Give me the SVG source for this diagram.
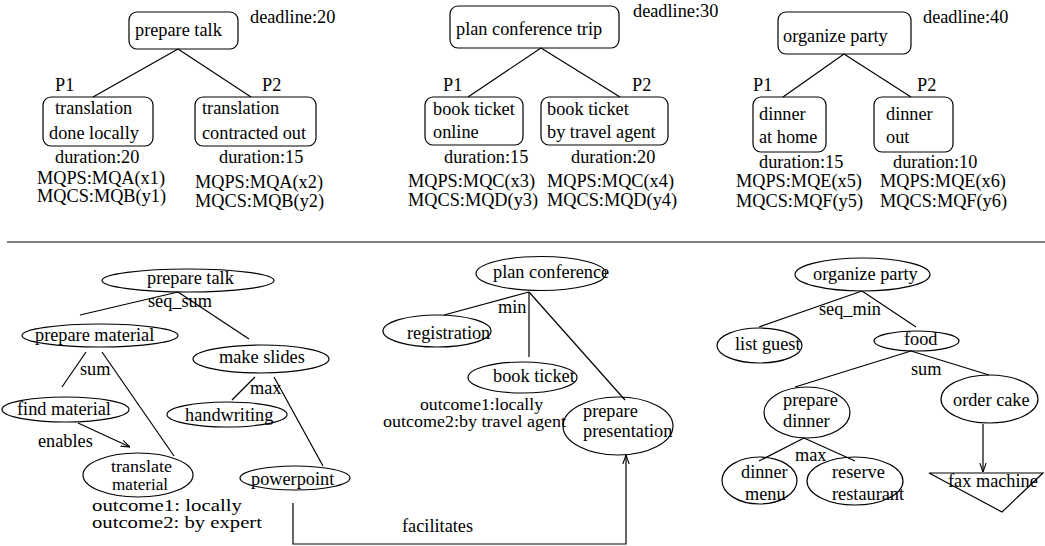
<svg xmlns="http://www.w3.org/2000/svg" width="1045" height="546" viewBox="0 0 1045 546" font-family="'Liberation Serif', 'Times New Roman', serif">
<style>
text{font-family:'Liberation Serif','Times New Roman',serif;font-size:18.3px;fill:#000}
.sm{font-size:16.8px}
.box{fill:none;stroke:#000;stroke-width:1.2}
.ell{fill:none;stroke:#000;stroke-width:1.2}
.ln{fill:none;stroke:#000;stroke-width:1.2}
.mid{text-anchor:middle}
</style>
<defs>
<marker id="arr" viewBox="0 0 10 10" refX="10" refY="5" markerWidth="9" markerHeight="9" markerUnits="userSpaceOnUse" orient="auto">
<path d="M0,1.5 L10,5 L0,8.5" fill="none" stroke="#000" stroke-width="1.2"/>
</marker>
</defs>
<rect width="1045" height="546" fill="#fff"/>

<g id="connectors">
<line class="ln" x1="178" y1="49" x2="93" y2="97"/>
<line class="ln" x1="178" y1="49" x2="251" y2="97"/>
<line class="ln" x1="541" y1="48" x2="468" y2="97"/>
<line class="ln" x1="541" y1="48" x2="620" y2="97"/>
<line class="ln" x1="844" y1="54" x2="783" y2="97"/>
<line class="ln" x1="844" y1="54" x2="911" y2="97"/>
<line class="ln" x1="7" y1="242" x2="1045" y2="242" stroke-width="1.5"/>
<line class="ln" x1="178" y1="292" x2="80" y2="315"/>
<line class="ln" x1="178" y1="292" x2="249" y2="339"/>
<line class="ln" x1="86" y1="352" x2="62" y2="387"/>
<line class="ln" x1="102" y1="352" x2="174" y2="456"/>
<line class="ln" x1="255" y1="377" x2="232" y2="400"/>
<line class="ln" x1="274" y1="377" x2="323" y2="466"/>
<line class="ln" x1="78" y1="423" x2="130" y2="447" marker-end="url(#arr)"/>
<polyline class="ln" points="293,503 293,544 626,544 626,455" marker-end="url(#arr)"/>
<line class="ln" x1="529" y1="292" x2="444" y2="315"/>
<line class="ln" x1="529" y1="292" x2="529" y2="357"/>
<line class="ln" x1="529" y1="292" x2="625" y2="400"/>
<line class="ln" x1="862" y1="291" x2="759" y2="327"/>
<line class="ln" x1="862" y1="291" x2="916" y2="327"/>
<line class="ln" x1="911" y1="351" x2="795" y2="387"/>
<line class="ln" x1="911" y1="351" x2="989" y2="375"/>
<line class="ln" x1="804" y1="438" x2="759" y2="461"/>
<line class="ln" x1="804" y1="438" x2="855" y2="461"/>
<line class="ln" x1="983" y1="424" x2="983" y2="472" marker-end="url(#arr)"/>
</g>

<g id="labels">
<text x="250" y="23">deadline:20</text>
<text x="633" y="17">deadline:30</text>
<text x="923" y="23">deadline:40</text>
<text x="55" y="91">P1</text>
<text x="262" y="91">P2</text>
<text x="443" y="91">P1</text>
<text x="632" y="91">P2</text>
<text x="753" y="91">P1</text>
<text x="917" y="91">P2</text>
<text x="55" y="163">duration:20</text>
<text x="37" y="184">MQPS:MQA(x1)</text>
<text x="37" y="202">MQCS:MQB(y1)</text>
<text x="219" y="163">duration:15</text>
<text x="195" y="188">MQPS:MQA(x2)</text>
<text x="195" y="207">MQCS:MQB(y2)</text>
<text x="444" y="163">duration:15</text>
<text x="408" y="187">MQPS:MQC(x3)</text>
<text x="408" y="206">MQCS:MQD(y3)</text>
<text x="571" y="163">duration:20</text>
<text x="547" y="187">MQPS:MQC(x4)</text>
<text x="547" y="206">MQCS:MQD(y4)</text>
<text x="759" y="168">duration:15</text>
<text x="736" y="187">MQPS:MQE(x5)</text>
<text x="736" y="207">MQCS:MQF(y5)</text>
<text x="893" y="168">duration:10</text>
<text x="880" y="187">MQPS:MQE(x6)</text>
<text x="880" y="207">MQCS:MQF(y6)</text>
<text x="148" y="307">seq_sum</text>
<text x="80" y="375">sum</text>
<text x="250" y="394">max</text>
<text x="38" y="447">enables</text>
<text class="sm" x="92" y="511" textLength="150" lengthAdjust="spacingAndGlyphs">outcome1: locally</text>
<text class="sm" x="92" y="528" textLength="170" lengthAdjust="spacingAndGlyphs">outcome2: by expert</text>
<text x="402" y="532">facilitates</text>
<text x="498" y="313">min</text>
<text class="sm" x="420" y="410" textLength="123" lengthAdjust="spacingAndGlyphs">outcome1:locally</text>
<text class="sm" x="383" y="427" textLength="183" lengthAdjust="spacingAndGlyphs">outcome2:by travel agent</text>
<text x="819" y="315">seq_min</text>
<text x="911" y="375">sum</text>
<text x="795" y="461">max</text>
</g>

<g id="t-prepare-talk"><rect class="box" x="129" y="12" width="109" height="37" rx="8"/><text x="135" y="36">prepare talk</text></g>
<g id="t-translation-local"><rect class="box" x="43" y="97" width="110" height="49" rx="8"/><text x="55" y="114">translation</text><text x="49" y="139">done locally</text></g>
<g id="t-translation-out"><rect class="box" x="195" y="97" width="121" height="49" rx="8"/><text x="202" y="114">translation</text><text x="202" y="139">contracted out</text></g>
<g id="t-plan-trip"><rect class="box" x="450" y="6" width="169" height="42" rx="8"/><text x="456" y="35">plan conference trip</text></g>
<g id="t-book-online"><rect class="box" x="425" y="97" width="98" height="48" rx="8"/><text x="433" y="115">book ticket</text><text x="433" y="138">online</text></g>
<g id="t-book-agent"><rect class="box" x="541" y="97" width="127" height="48" rx="8"/><text x="547" y="115">book ticket</text><text x="547" y="138">by travel agent</text></g>
<g id="t-organize-party"><rect class="box" x="778" y="12" width="133" height="42" rx="8"/><text x="783" y="42">organize party</text></g>
<g id="t-dinner-home"><rect class="box" x="753" y="97" width="73" height="55" rx="8"/><text x="759" y="120">dinner</text><text x="759" y="143">at home</text></g>
<g id="t-dinner-out"><rect class="box" x="874" y="97" width="79" height="55" rx="8"/><text x="886" y="120">dinner</text><text x="886" y="143">out</text></g>

<g id="b-prepare-talk"><ellipse class="ell" cx="188" cy="280.5" rx="86" ry="11.5"/><text x="147" y="284">prepare talk</text></g>
<g id="b-prepare-material"><ellipse class="ell" cx="100" cy="335.5" rx="78" ry="11.5"/><text x="35" y="341">prepare material</text></g>
<g id="b-make-slides"><ellipse class="ell" cx="261" cy="359" rx="68" ry="14"/><text x="219" y="363">make slides</text></g>
<g id="b-find-material"><ellipse class="ell" cx="65.5" cy="409.5" rx="63.5" ry="12.5"/><text x="17" y="415">find material</text></g>
<g id="b-handwriting"><ellipse class="ell" cx="227" cy="414.5" rx="60" ry="12.5"/><text x="185" y="421">handwriting</text></g>
<g id="b-translate-material"><ellipse class="ell" cx="138" cy="475" rx="55" ry="22"/><text class="sm" x="111" y="472" textLength="61" lengthAdjust="spacingAndGlyphs">translate</text><text class="sm" x="112" y="490" textLength="56" lengthAdjust="spacingAndGlyphs">material</text></g>
<g id="b-powerpoint"><ellipse class="ell" cx="295" cy="478" rx="55" ry="12"/><text x="251" y="485">powerpoint</text></g>

<g id="b-plan-conference"><ellipse class="ell" cx="541" cy="273.5" rx="65" ry="17"/><text x="493" y="278">plan conference</text></g>
<g id="b-registration"><ellipse class="ell" cx="437" cy="331" rx="54" ry="16"/><text x="407" y="339">registration</text></g>
<g id="b-book-ticket"><ellipse class="ell" cx="522.5" cy="377.5" rx="54.5" ry="15.5"/><text x="493" y="382">book ticket</text></g>
<g id="b-prepare-presentation"><ellipse class="ell" cx="618" cy="426" rx="55" ry="29"/><text x="583" y="417">prepare</text><text x="583" y="437">presentation</text></g>

<g id="b-organize-party"><ellipse class="ell" cx="862.5" cy="274.5" rx="67.5" ry="16.5"/><text x="813" y="280">organize party</text></g>
<g id="b-list-guest"><ellipse class="ell" cx="759.5" cy="345.5" rx="42.5" ry="17.5"/><text x="735" y="350">list guest</text></g>
<g id="b-food"><ellipse class="ell" cx="916.5" cy="341" rx="42.5" ry="10"/><text x="904" y="345">food</text></g>
<g id="b-prepare-dinner"><ellipse class="ell" cx="807" cy="412.5" rx="43" ry="25.5"/><text x="783" y="406">prepare</text><text x="783" y="427">dinner</text></g>
<g id="b-order-cake"><ellipse class="ell" cx="989.5" cy="399" rx="48.5" ry="24"/><text x="953" y="406">order cake</text></g>
<g id="b-fax-machine"><polygon class="box" points="929,473 1043,473 1002,512"/><text x="948" y="487">fax machine</text></g>
<g id="b-dinner-menu"><ellipse class="ell" cx="759.5" cy="480.5" rx="37.5" ry="23.5"/><text x="741" y="478">dinner</text><text x="745" y="500">menu</text></g>
<g id="b-reserve-restaurant"><ellipse class="ell" cx="855" cy="481" rx="48" ry="24"/><text x="832" y="478">reserve</text><text x="832" y="500">restaurant</text></g>
</svg>
